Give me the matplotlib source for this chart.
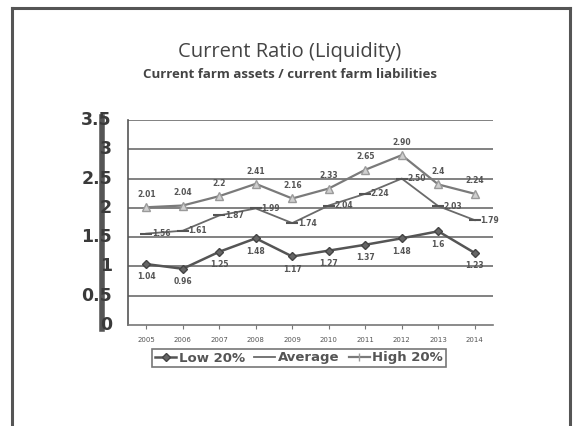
import matplotlib
matplotlib.use("Agg")
import matplotlib.pyplot as plt
from matplotlib.lines import Line2D

years = ["2005", "2006", "2007", "2008", "2009", "2010", "2011", "2012", "2013", "2014"]
low20 = [1.04, 0.96, 1.25, 1.48, 1.17, 1.27, 1.37, 1.48, 1.6, 1.23]
average = [1.56, 1.61, 1.87, 1.99, 1.74, 2.04, 2.24, 2.50, 2.03, 1.79]
high20 = [2.01, 2.04, 2.2, 2.41, 2.16, 2.33, 2.65, 2.90, 2.4, 2.24]
yticks = [0, 0.5, 1, 1.5, 2, 2.5, 3, 3.5]
ytick_labels = ["0", "0.5", "1", "1.5", "2", "2.5", "3", "3.5"]

W, H = 575, 426
fig = plt.figure(figsize=(W / 100, H / 100), dpi=100)
fig.patch.set_facecolor("white")

def fx(px):
    return px / W
def fy(py):
    return 1 - py / H

# slide frame
for xs, ys in [([12, 12], [8, 430]), ([12, 570], [8, 8]), ([570, 570], [8, 430])]:
    fig.add_artist(Line2D([fx(v) for v in xs], [fy(v) for v in ys], color="#555555", lw=2.2))

ax = fig.add_axes([fx(128), fy(325), fx(493) - fx(128), fy(120) - fy(325)])
x = list(range(len(years)))

ax.plot(x, high20, color="#7a7a7a", lw=1.6, marker="^", ms=6, mfc="#cfcfcf", mec="#9a9a9a", zorder=4, label="High 20%")
ax.plot(x, average, color="#6a6a6a", lw=1.3, marker="_", ms=8, mew=1.5, mec="#555555", zorder=3, label="Average")
ax.plot(x, low20, color="#555555", lw=1.8, marker="D", ms=4.5, mfc="#666666", mec="#444444", zorder=5, label="Low 20%")

for i, v in enumerate(high20):
    ax.annotate(f"{v:g}" if v != 2.9 else "2.90", (i, v), xytext=(0, 6), textcoords="offset points",
                ha="center", va="bottom", fontsize=5.5, color="#555555", fontweight="bold")
for i, v in enumerate(average):
    ax.annotate(f"{v:.2f}", (i, v), xytext=(4, 0), textcoords="offset points",
                ha="left", va="center", fontsize=5.5, color="#555555", fontweight="bold")
for i, v in enumerate(low20):
    ax.annotate(f"{v:.2f}" if v != 1.6 else "1.6", (i, v), xytext=(0, -6), textcoords="offset points",
                ha="center", va="top", fontsize=5.5, color="#555555", fontweight="bold")

ax.set_xlim(-0.5, len(years) - 0.5)
ax.set_ylim(0, 3.5)
ax.set_yticks(yticks)
ax.set_yticklabels([])
ax.tick_params(axis="y", length=0)
ax.set_xticks(x)
ax.set_xticklabels(years, fontsize=5, color="#555555")
ax.tick_params(axis="x", length=3, color="#777777", pad=6)
for yv in yticks[1:]:
    ax.axhline(yv, color="#777777", lw=1.3, zorder=1)
for s in ["top", "right"]:
    ax.spines[s].set_visible(False)
ax.spines["left"].set_color("#555555")
ax.spines["left"].set_linewidth(1.2)
ax.spines["bottom"].set_color("#777777")
ax.spines["bottom"].set_linewidth(1.2)

# thick bar and y tick labels outside the axes
fig.add_artist(Line2D([fx(102), fx(102)], [fy(117), fy(329)], color="#555555", lw=4.0, zorder=1))
for yv, lab in zip(yticks, ytick_labels):
    py = 325 - yv / 3.5 * 205
    fig.text(fx(112), fy(py), lab, ha="right", va="center", fontsize=12.5, fontweight="bold",
             color="#3a3a3a", zorder=2)

fig.text(fx(290), fy(52), "Current Ratio (Liquidity)", ha="center", va="center", fontsize=14.5,
         color="#444444", family="Open Sans")
fig.text(fx(290), fy(75), "Current farm assets / current farm liabilities", ha="center", va="center",
         fontsize=9.5, fontweight="bold", color="#444444", family="Open Sans")

handles = [
    Line2D([], [], color="#555555", lw=1.8, marker="D", ms=4, mfc="#666666", mec="#444444"),
    Line2D([], [], color="#6a6a6a", lw=1.3),
    Line2D([], [], color="#7a7a7a", lw=1.6, marker="|", ms=6, mec="#9a9a9a"),
]
leg = fig.legend(handles, ["Low 20%", "Average", "High 20%"], loc="center", bbox_to_anchor=(fx(299), fy(358)),
                 ncol=3, frameon=True, fancybox=False, edgecolor="#555555", fontsize=9.5,
                 handlelength=1.6, handletextpad=0.2, columnspacing=0.7, borderpad=0.2)
leg.get_frame().set_linewidth(1.2)
for t in leg.get_texts():
    t.set_color("#555555")
    t.set_fontweight("bold")

fig.savefig("out.png", dpi=100, facecolor="white")
